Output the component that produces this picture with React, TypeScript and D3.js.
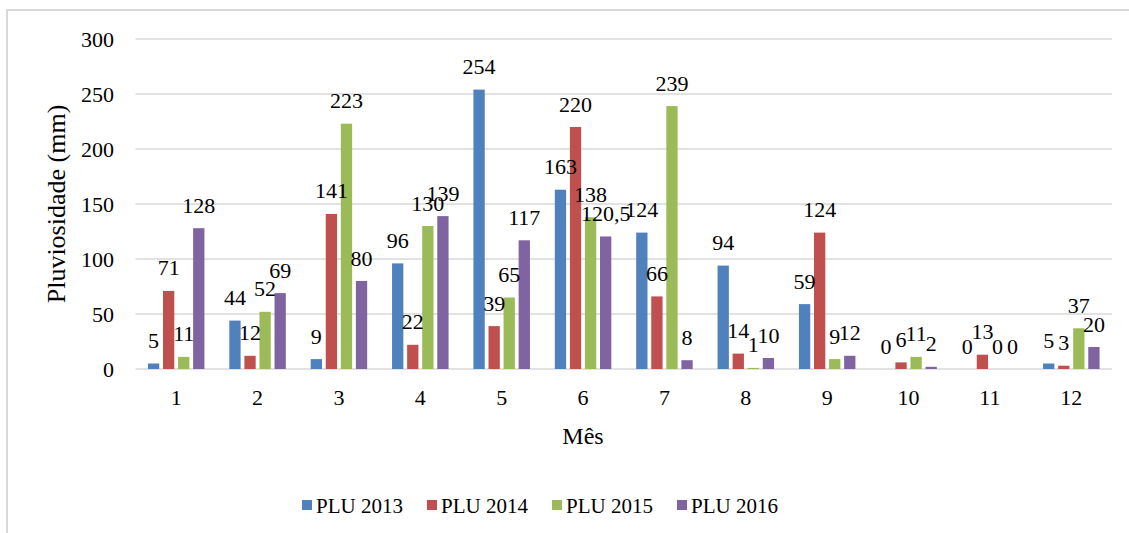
import React from "react";
import * as d3 from "d3";

const months = ["1", "2", "3", "4", "5", "6", "7", "8", "9", "10", "11", "12"];
const seriesNames = ["PLU 2013", "PLU 2014", "PLU 2015", "PLU 2016"];
const plu2013 = [5, 44, 9, 96, 254, 163, 124, 94, 59, 0, 0, 5];
const plu2014 = [71, 12, 141, 22, 39, 220, 66, 14, 124, 6, 13, 3];
const plu2015 = [11, 52, 223, 130, 65, 138, 239, 1, 9, 11, 0, 37];
const plu2016 = [128, 69, 80, 139, 117, 120.5, 8, 10, 12, 2, 0, 20];
const yTicks = [0, 50, 100, 150, 200, 250, 300];
const colors = ["#4F81BD", "#C0504D", "#9BBB59", "#8064A2"];

const seriesValues = [plu2013, plu2014, plu2015, plu2016];

const W = 1129;
const H = 533;
const plot = { left: 135.5, right: 1112, top: 39, bottom: 369 };
const font = '"Liberation Serif", "DejaVu Serif", serif';

function fmt(v: number) {
  return String(v).replace(".", ",");
}

export default function App() {
  const x0 = d3.scaleBand<string>().domain(months).range([plot.left, plot.right]).padding(0);
  const groupW = 56.5;
  const x1 = d3
    .scaleBand<string>()
    .domain(seriesNames)
    .range([0, groupW])
    .paddingInner(0.25)
    .paddingOuter(0);
  const y = d3.scaleLinear().domain([0, 300]).range([plot.bottom, plot.top]);
  const bw = x1.bandwidth();
  const ts = { fontFamily: font };

  return (
    <div style={{ position: "fixed", left: 0, top: 0, width: W, height: H, background: "#fff" }}>
      <svg width={W} height={H} style={{ display: "block", fontFamily: font }}>
        <rect x={0} y={0} width={W} height={H} fill="#fff" />
        <rect x={7} y={10} width={W + 20} height={H + 20} fill="#fff" stroke="#D9D9D9" strokeWidth={2} />
        {yTicks.map((t) => (
          <g key={t}>
            <line x1={plot.left} x2={plot.right} y1={y(t)} y2={y(t)} stroke="#D9D9D9" strokeWidth={1.3} />
            <text x={114} y={y(t) + 7.5} textAnchor="end" style={ts} fontSize={22} fill="#000">
              {t}
            </text>
          </g>
        ))}
        {months.map((m, i) => {
          const gx = (x0(m) as number) + (x0.bandwidth() - groupW) / 2;
          return (
            <g key={m}>
              {seriesNames.map((s, j) => {
                const v = seriesValues[j][i];
                const bx = gx + (x1(s) as number);
                return (
                  <rect key={s} x={bx} y={y(v)} width={bw} height={plot.bottom - y(v)} fill={colors[j]} />
                );
              })}
              {seriesNames.map((s, j) => {
                const v = seriesValues[j][i];
                const bx = gx + (x1(s) as number);
                return (
                  <text
                    key={s + "l"}
                    x={bx + bw / 2}
                    y={y(v) - 15.5}
                    textAnchor="middle"
                    style={ts}
                    fontSize={22}
                    fill="#000"
                  >
                    {fmt(v)}
                  </text>
                );
              })}
              <text
                x={(x0(m) as number) + x0.bandwidth() / 2}
                y={405}
                textAnchor="middle"
                style={ts}
                fontSize={22}
                fill="#000"
              >
                {m}
              </text>
            </g>
          );
        })}
        <text
          transform={`translate(65, ${(plot.top + plot.bottom) / 2}) rotate(-90)`}
          textAnchor="middle"
          style={ts}
          fontSize={26}
          fill="#000"
        >
          Pluviosidade (mm)
        </text>
        <text x={583} y={444} textAnchor="middle" style={ts} fontSize={24} fill="#000">
          Mês
        </text>
        {seriesNames.map((s, j) => (
          <g key={s} transform={`translate(${302 + j * 125}, 500)`}>
            <rect x={0} y={0} width={10} height={10} fill={colors[j]} />
            <text x={14} y={12.5} style={ts} fontSize={21} fill="#000">
              {s}
            </text>
          </g>
        ))}
      </svg>
    </div>
  );
}
